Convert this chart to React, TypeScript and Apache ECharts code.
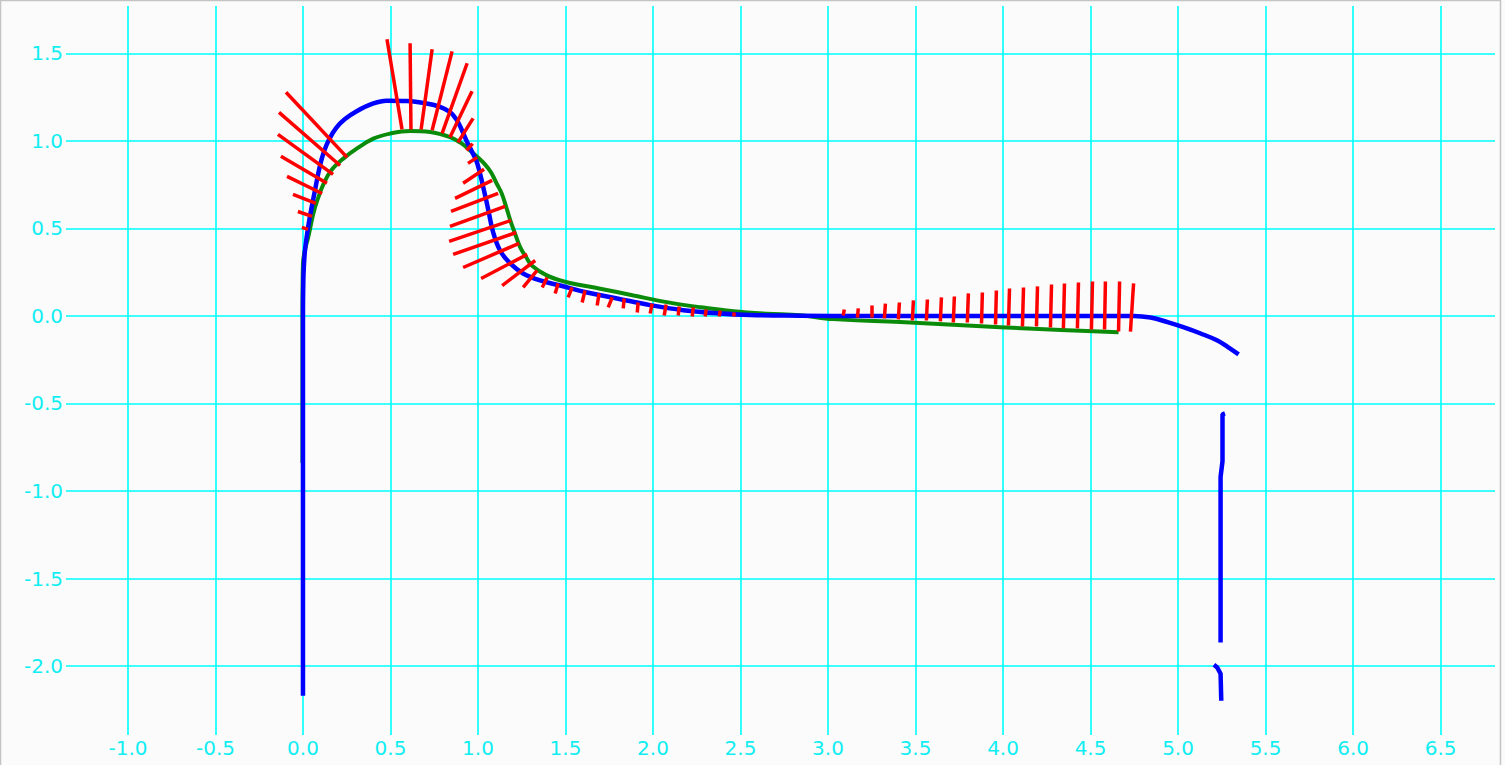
import React, { useEffect, useRef } from "react";
import * as echarts from "echarts";

// Axis ranges and tick values
const X_MIN = -1.354;
const X_MAX = 6.811;
const Y_MIN = -2.394;
const Y_MAX = 1.771;
const xTicks = [-1.0, -0.5, 0.0, 0.5, 1.0, 1.5, 2.0, 2.5, 3.0, 3.5, 4.0, 4.5, 5.0, 5.5, 6.0, 6.5];
const yTicks = [-2.0, -1.5, -1.0, -0.5, 0.0, 0.5, 1.0, 1.5];

// Blue curve (three pieces)
const blueMain: number[][] = [
  [0.0, -2.17], [0.0, -1.5], [0.0, -1.0], [0.0, -0.5], [0.0, 0.0], [0.002, 0.2], [0.005, 0.28],
  [0.011, 0.37], [0.021, 0.45], [0.04, 0.57], [0.069, 0.72], [0.095, 0.85], [0.12, 0.94],
  [0.15, 1.01], [0.19, 1.075], [0.24, 1.125], [0.307, 1.17], [0.402, 1.214], [0.478, 1.23],
  [0.593, 1.228], [0.707, 1.214], [0.783, 1.195], [0.84, 1.165], [0.875, 1.125], [0.9, 1.08],
  [0.935, 1.0], [0.965, 0.94], [0.995, 0.875], [1.029, 0.74], [1.058, 0.61], [1.086, 0.48],
  [1.126, 0.374], [1.184, 0.3], [1.258, 0.243], [1.355, 0.203], [1.47, 0.174], [1.624, 0.134],
  [1.795, 0.1], [1.984, 0.062], [2.173, 0.033], [2.367, 0.015], [2.556, 0.005], [2.842, 0.002],
  [3.2, 0.0], [3.6, 0.0], [4.0, 0.0], [4.4, 0.0], [4.746, 0.0], [4.843, -0.009], [4.94, -0.035],
  [5.03, -0.064], [5.129, -0.1], [5.225, -0.14], [5.283, -0.176], [5.346, -0.219],
];
const blueMid: number[][] = [
  [5.268, -0.557], [5.254, -0.562], [5.254, -0.83], [5.243, -0.92], [5.243, -1.866],
];
const blueLow: number[][] = [
  [5.205, -1.993], [5.224, -2.008], [5.243, -2.044], [5.247, -2.198],
];

// Green curve
const greenPts: number[][] = [
  [-0.003, -0.84], [-0.003, -0.4], [-0.003, 0.0], [0.0, 0.3], [0.012, 0.38], [0.03, 0.45],
  [0.059, 0.584], [0.085, 0.67], [0.12, 0.76], [0.16, 0.83], [0.23, 0.899], [0.307, 0.956],
  [0.402, 1.013], [0.497, 1.042], [0.612, 1.057], [0.726, 1.051], [0.84, 1.022], [0.9, 0.99],
  [0.955, 0.946], [1.0, 0.905], [1.041, 0.865], [1.075, 0.82], [1.107, 0.756], [1.136, 0.699],
  [1.165, 0.61], [1.19, 0.53], [1.212, 0.47], [1.24, 0.395], [1.279, 0.33], [1.307, 0.289],
  [1.393, 0.232], [1.508, 0.193], [1.698, 0.156], [1.889, 0.117], [2.079, 0.079],
  [2.27, 0.05], [2.46, 0.027], [2.651, 0.013], [2.842, 0.004], [3.03, -0.018], [3.413, -0.035],
  [3.795, -0.054], [4.174, -0.073], [4.66, -0.093],
];

// Red normal segments: start (on green curve) and end points
const redX0 = [
  0.252, 0.212, 0.172, 0.137, 0.109, 0.074, 0.052, 0.029,
  0.566, 0.617, 0.675, 0.738, 0.795, 0.84, 0.886, 0.935,
  0.995, 1.035, 1.081, 1.115, 1.155, 1.189, 1.218, 1.235, 1.281, 1.327, 1.338,
  1.395, 1.458, 1.538, 1.612, 1.692, 1.767, 1.835, 1.915, 1.995, 2.075, 2.15, 2.23, 2.304, 2.384, 2.459,
  3.087, 3.168, 3.248, 3.322, 3.402, 3.482, 3.562, 3.642, 3.716, 3.796, 3.877, 3.957, 4.031,
  4.111, 4.191, 4.271, 4.345, 4.425, 4.505, 4.58, 4.66, 4.728,
];
const redY0 = [
  0.906, 0.86, 0.809, 0.758, 0.7, 0.643, 0.569, 0.495,
  1.066, 1.066, 1.066, 1.061, 1.043, 1.021, 0.992, 0.946,
  0.906, 0.838, 0.775, 0.7, 0.626, 0.546, 0.477, 0.415, 0.352, 0.317, 0.26,
  0.22, 0.186, 0.163, 0.146, 0.129, 0.106, 0.1, 0.077, 0.071, 0.066, 0.054, 0.049, 0.037, 0.031, 0.02,
  0.003, -0.009, -0.009, -0.014, -0.02, -0.026, -0.026, -0.031, -0.037, -0.037, -0.043, -0.049, -0.054,
  -0.06, -0.06, -0.066, -0.071, -0.071, -0.077, -0.077, -0.089, -0.089,
];
const redX1 = [
  -0.097, -0.137, -0.143, -0.126, -0.091, -0.057, -0.029, -0.006,
  0.48, 0.612, 0.738, 0.852, 0.938, 0.966, 0.972, 0.969,
  0.943, 0.915, 0.869, 0.846, 0.84, 0.835, 0.858, 0.915, 1.018, 1.138, 1.258,
  1.367, 1.441, 1.515, 1.595, 1.681, 1.744, 1.83, 1.91, 1.984, 2.064, 2.144, 2.224, 2.298, 2.378, 2.459,
  3.093, 3.173, 3.248, 3.328, 3.408, 3.488, 3.568, 3.648, 3.722, 3.802, 3.882, 3.962, 4.037,
  4.117, 4.197, 4.277, 4.351, 4.431, 4.511, 4.585, 4.666, 4.746,
];
const redY1 = [
  1.278, 1.163, 1.038, 0.912, 0.798, 0.695, 0.597, 0.506,
  1.581, 1.558, 1.524, 1.512, 1.444, 1.284, 1.129, 0.985,
  0.872, 0.758, 0.672, 0.598, 0.512, 0.426, 0.352, 0.277, 0.214, 0.174, 0.163,
  0.163, 0.129, 0.106, 0.077, 0.06, 0.049, 0.043, 0.02, 0.014, 0.003, 0.003, -0.003, -0.003, -0.003, -0.003,
  0.037, 0.043, 0.06, 0.071, 0.077, 0.089, 0.094, 0.106, 0.111, 0.129, 0.134, 0.146, 0.157,
  0.163, 0.169, 0.18, 0.186, 0.191, 0.197, 0.197, 0.197, 0.186,
];

const GRID_COLOR = "#00ffff";
const LABEL_COLOR = "#11eef2";
const FONT = "DejaVu Sans";

export default function App() {
  const ref = useRef<HTMLDivElement>(null);

  useEffect(() => {
    if (!ref.current) return;
    const chart = echarts.init(ref.current, undefined, { renderer: "svg" });

    const redData = redX0.map((_, i) => ({
      coords: [
        [redX0[i], redY0[i]],
        [redX1[i], redY1[i]],
      ],
    }));

    const blueStyle = {
      type: "line" as const,
      showSymbol: false,
      symbol: "none",
      smooth: 0.4,
      lineStyle: { color: "#0000ff", width: 4.5 },
      z: 3,
    };

    chart.setOption({
      animation: false,
      backgroundColor: "#fbfbfb",
      grid: { left: 66, right: 10, top: 6, bottom: 30, containLabel: false },
      xAxis: {
        type: "value",
        min: X_MIN,
        max: X_MAX,
        axisLine: { show: false },
        axisTick: { show: false, customValues: xTicks },
        axisLabel: {
          customValues: xTicks,
          formatter: (v: number) => v.toFixed(1),
          color: LABEL_COLOR,
          fontFamily: FONT,
          fontSize: 20,
          margin: 3,
        },
        splitLine: { show: true, lineStyle: { color: GRID_COLOR, width: 1.6 } },
      },
      yAxis: {
        type: "value",
        min: Y_MIN,
        max: Y_MAX,
        axisLine: { show: false },
        axisTick: { show: false, customValues: yTicks },
        axisLabel: {
          customValues: yTicks,
          formatter: (v: number) => v.toFixed(1),
          color: LABEL_COLOR,
          fontFamily: FONT,
          fontSize: 20,
          margin: 3,
        },
        splitLine: { show: true, lineStyle: { color: GRID_COLOR, width: 1.6 } },
      },
      graphic: [
        {
          type: "rect",
          z: 100,
          silent: true,
          shape: { x: 0.5, y: 0.5, width: 1500, height: 780 },
          style: { fill: "none", stroke: "#c4c4c4", lineWidth: 1.5 },
        },
      ],
      series: [
        {
          type: "line",
          data: greenPts,
          showSymbol: false,
          symbol: "none",
          smooth: 0.4,
          lineStyle: { color: "#0a8c0a", width: 4 },
          z: 2,
        },
        { ...blueStyle, data: blueMain },
        { ...blueStyle, data: blueMid, smooth: false },
        { ...blueStyle, data: blueLow, smooth: false },
        {
          type: "lines",
          coordinateSystem: "cartesian2d",
          polyline: false,
          data: redData,
          lineStyle: { color: "#ff0000", width: 3.5, opacity: 1, curveness: 0 },
          z: 4,
        },
      ],
    });

    return () => {
      chart.dispose();
    };
  }, []);

  return (
    <div
      ref={ref}
      style={{ position: "fixed", left: 0, top: 0, width: 1505, height: 765, background: "#ffffff" }}
    />
  );
}
